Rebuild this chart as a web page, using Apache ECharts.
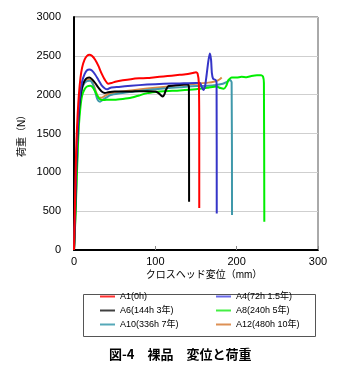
<!DOCTYPE html>
<html>
<head>
<meta charset="utf-8">
<script src="https://cdn.jsdelivr.net/npm/echarts@6/dist/echarts.min.js"></script>
<style>
  html, body { margin: 0; padding: 0; background: #fff; }
  #chart { width: 345px; height: 370px; }
</style>
</head>
<body>
<div id="chart"></div>
<script>
// 変位 (mm) と荷重 (N) の測定点
const seriesNames = ['A1(0h)', 'A4(72h 1.5年)', 'A6(144h 3年)', 'A8(240h 5年)', 'A10(336h 7年)', 'A12(480h 10年)'];
const seriesColors = ['#ff0000', '#3535c8', '#000000', '#00ee00', '#3f98aa', '#d98a45'];
const legendColors = ['#ff3030', '#6a6ae8', '#404040', '#44ee44', '#55a8b8', '#dd9055'];

const xTicks = [0, 100, 200, 300];
const yTicks = [0, 500, 1000, 1500, 2000, 2500, 3000];

const a1 = [[0,0],[1,500],[2,1000],[3,1400],[4.5,1750],[6,2000],[8,2220],[10,2350],[13,2450],[16,2500],[19,2515],[22,2500],[26,2450],[30,2370],[34,2270],[38,2190],[42,2140],[46,2150],[52,2170],[60,2185],[70,2200],[80,2210],[90,2215],[100,2225],[110,2235],[120,2245],[130,2255],[140,2265],[146,2280],[150,2290],[152,2270],[153.5,2150],[154,1500],[154,540]];
const a4 = [[0,0],[1.2,450],[2.5,1000],[4,1450],[5.5,1750],[7.5,2000],[10,2170],[13,2265],[16,2315],[19,2325],[22,2310],[26,2260],[30,2190],[34,2120],[38,2080],[41,2070],[45,2090],[55,2100],[70,2115],[90,2130],[110,2140],[130,2145],[150,2150],[155,2150],[157,2100],[159,2060],[161,2100],[163,2250],[165,2420],[167,2530],[168.5,2450],[169.5,2280],[171,2205],[174,2190],[175.3,2150],[175.5,470]];
const a6 = [[0,0],[1.2,420],[2.5,950],[4,1400],[5.5,1700],[7.5,1950],[10,2100],[13,2180],[16,2215],[19,2222],[22,2200],[26,2150],[30,2090],[34,2040],[38,2020],[42,2030],[50,2040],[60,2040],[70,2040],[80,2045],[90,2045],[100,2040],[104,2020],[107,1990],[109,1975],[111,2000],[113,2060],[116,2110],[125,2120],[135,2130],[140,2135],[141.3,2100],[141.5,620]];
const a8 = [[0,0],[1.5,350],[3,800],[4.5,1250],[6,1600],[8,1850],[10,1990],[13,2070],[16,2105],[20,2115],[23,2095],[26,2040],[29,1980],[32,1940],[35,1930],[40,1935],[50,1935],[60,1945],[70,1960],[80,1990],[90,2020],[100,2035],[110,2045],[130,2055],[150,2070],[165,2090],[175,2105],[180,2085],[184,2075],[187,2110],[190,2190],[194,2220],[200,2220],[206,2230],[212,2225],[218,2240],[225,2250],[230,2250],[232.5,2230],[233.5,2150],[234,365]];
const a10 = [[0,0],[1.5,400],[3,900],[4.5,1350],[6,1700],[8,1950],[10,2080],[13,2150],[16,2175],[19,2180],[22,2160],[25,2080],[28,1960],[30,1920],[32,1910],[35,1930],[40,1965],[45,1995],[55,2015],[70,2035],[90,2060],[110,2080],[130,2095],[150,2110],[165,2115],[175,2125],[183,2140],[188,2165],[192,2188],[193.8,2160],[194.3,450]];
const a12 = [[0,0],[1.5,420],[3,950],[4.5,1400],[6,1750],[8,1980],[10,2100],[13,2165],[16,2190],[19,2195],[22,2175],[25,2100],[28,2010],[31,1960],[34,1960],[38,1985],[44,2015],[55,2035],[70,2055],[90,2080],[110,2100],[130,2120],[150,2140],[165,2155],[173,2170],[177,2185],[180,2205],[181.6,2220]];

const seriesData = [a1, a4, a6, a8, a10, a12];

const FONT = '"Liberation Sans", "Noto Sans CJK JP", sans-serif';

// 凡例: 2列×3行
const legendCols = [100, 216];
const legendRows = [298, 312, 326];
const legends = seriesNames.map((name, i) => ({
  data: [{ name: name, itemStyle: { color: legendColors[i] } }],
  left: legendCols[i % 2],
  top: legendRows[Math.floor(i / 2)] - 6,
  icon: 'rect',
  itemWidth: 15,
  itemHeight: 2,
  itemGap: 0,
  padding: 0,
  selectedMode: false,
  textStyle: { fontFamily: FONT, fontSize: 9, color: '#000' }
}));

const chart = echarts.init(document.getElementById('chart'), null, { renderer: 'canvas' });
chart.setOption({
  animation: false,
  backgroundColor: '#fff',
  grid: {
    left: 74, right: 27, top: 17, bottom: 120,
    show: true, borderColor: '#555', borderWidth: 1
  },
  xAxis: {
    type: 'value',
    min: xTicks[0], max: xTicks[xTicks.length - 1], interval: 100,
    name: 'クロスヘッド変位（mm）',
    nameLocation: 'middle',
    nameGap: 20,
    nameMoveOverlap: false,
    nameTextStyle: { fontFamily: FONT, fontSize: 10, color: '#000', padding: [0, 0, 0, 16] },
    axisLine: { lineStyle: { color: '#000', width: 2 } },
    axisTick: { inside: true, length: 4, lineStyle: { color: '#888' } },
    axisLabel: { fontFamily: FONT, fontSize: 11, color: '#000', margin: 6 },
    splitLine: { show: false }
  },
  yAxis: {
    type: 'value',
    min: yTicks[0], max: yTicks[yTicks.length - 1], interval: 500,
    name: '荷重（N）',
    nameLocation: 'middle',
    nameRotate: 90,
    nameGap: 47,
    nameMoveOverlap: false,
    nameTextStyle: { fontFamily: FONT, fontSize: 10, color: '#000' },
    axisLine: { show: true, lineStyle: { color: '#000', width: 2 } },
    axisTick: { show: false },
    axisLabel: { fontFamily: FONT, fontSize: 11, color: '#000', margin: 13, formatter: v => String(v) },
    splitLine: { show: true, lineStyle: { color: '#cfcfcf', width: 1 } }
  },
  legend: legends,
  series: seriesNames.map((name, i) => ({
    name: name,
    type: 'line',
    data: seriesData[i],
    showSymbol: false,
    symbol: 'none',
    smooth: 0.2,
    lineStyle: { color: seriesColors[i], width: 2 },
    itemStyle: { color: seriesColors[i] },
    z: 2 + (5 - i)
  })),
  graphic: [
    {
      type: 'rect',
      left: 81, top: 292,
      shape: { width: 232, height: 42 },
      style: { fill: 'none', stroke: '#555', lineWidth: 1 }
    },
    {
      type: 'text',
      left: 109, top: 348,
      style: { text: '図-4\u3000裸品\u3000変位と荷重', font: 'bold 13px "Noto Sans CJK JP", sans-serif', fill: '#000' }
    }
  ]
});
</script>
</body>
</html>
